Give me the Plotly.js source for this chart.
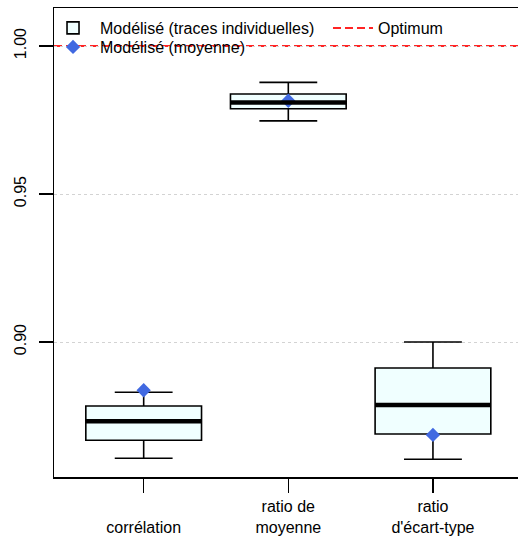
<!DOCTYPE html>
<html>
<head>
<meta charset="utf-8">
<script src="https://cdn.plot.ly/plotly-3.0.1.min.js"></script>
<style>html,body{margin:0;padding:0;background:#fff;overflow:hidden}</style>
</head>
<body>
<div id="chart" style="width:518px;height:537px"></div>
<script>
// ---- data ----
var categories = ["corrélation", "ratio de moyenne", "ratio d'écart-type"];
var tickLabels = [" <br>corrélation", "ratio de<br>moyenne", "ratio<br>d'écart-type"];
var lowerWhisker = [0.8607, 0.9747, 0.8604];
var q1Values     = [0.8668, 0.9788, 0.8689];
var medianValues = [0.8732, 0.9809, 0.8787];
var q3Values     = [0.8784, 0.9838, 0.8912];
var upperWhisker = [0.8830, 0.9877, 0.9000];
var meanValues   = [0.8837, 0.9815, 0.8686];
var optimumValue = 1.0;
var yTickVals = [0.90, 0.95, 1.00];
var yTickText = ["0.90", "0.95", "1.00"];

var FONT = "Liberation Sans, Arial, Helvetica, sans-serif";
var BOXW = 0.8;

var boxTrace = {
  type: "box",
  name: "Modélisé (traces individuelles)",
  x: categories,
  q1: q1Values,
  median: medianValues,
  q3: q3Values,
  lowerfence: lowerWhisker,
  upperfence: upperWhisker,
  width: BOXW,
  whiskerwidth: 0.5,
  fillcolor: "#F0FFFF",
  line: {color: "#000000", width: 1.6},
  boxpoints: false,
  legend: "legend",
  hoverinfo: "skip"
};

var meanTrace = {
  type: "scatter",
  mode: "markers",
  name: "Modélisé (moyenne)",
  x: categories,
  y: meanValues,
  marker: {symbol: "diamond", size: 11, color: "#4169E1", line: {width: 0}},
  legend: "legend3",
  hoverinfo: "skip"
};

var shapes = [];
// thick median bars (R medlwd)
medianValues.forEach(function (m, i) {
  shapes.push({
    type: "line", xref: "x", yref: "y",
    x0: i - BOXW / 2, x1: i + BOXW / 2, y0: m, y1: m,
    line: {color: "#000000", width: 4.5}, layer: "above"
  });
});
// optimum reference line (in legend)
shapes.push({
  type: "line", xref: "paper", yref: "y",
  x0: 0, x1: 1, y0: optimumValue, y1: optimumValue,
  line: {color: "#FF2424", width: 2, dash: "8px,4px"},
  layer: "below",
  showlegend: true, name: "Optimum", legend: "legend2"
});

function legendBox(x, y, iw) {
  return {
    orientation: "v",
    x: x, xanchor: "left", y: y, yanchor: "top",
    bgcolor: "rgba(0,0,0,0)", borderwidth: 0,
    itemwidth: iw,
    font: {family: FONT, size: 16, color: "#000000"}
  };
}

var layout = {
  width: 518, height: 537,
  margin: {l: 54, r: 0, t: 8, b: 60, pad: 0},
  paper_bgcolor: "#ffffff", plot_bgcolor: "#ffffff",
  font: {family: FONT, size: 16, color: "#000000"},
  showlegend: true,
  legend: legendBox(-0.0172, 0.9936, 44),
  legend2: legendBox(0.5905, 0.9936, 40),
  legend3: legendBox(-0.0172, 0.9531, 44),
  xaxis: {
    type: "category",
    categoryarray: categories, categoryorder: "array",
    tickvals: categories, ticktext: tickLabels,
    range: [-0.62, 2.588],
    showgrid: false, zeroline: false,
    showline: true, linecolor: "#000000", linewidth: 1.5, mirror: true,
    ticks: "outside", ticklen: 14, tickwidth: 1.5, tickcolor: "#000000",
    tickfont: {family: FONT, size: 16, color: "#000000"}
  },
  yaxis: {
    range: [0.85439, 1.01284],
    tickvals: yTickVals, ticktext: yTickText,
    tickangle: -90, ticklabelstandoff: 6,
    showgrid: true, gridcolor: "#D3D3D3", griddash: "dot", gridwidth: 1,
    zeroline: false,
    showline: true, linecolor: "#000000", linewidth: 1.5, mirror: false,
    ticks: "outside", ticklen: 14, tickwidth: 1.5, tickcolor: "#000000",
    tickfont: {family: FONT, size: 16, color: "#000000"}
  },
  shapes: shapes
};

Plotly.newPlot("chart", [boxTrace, meanTrace], layout, {staticPlot: true, displayModeBar: false});
</script>
</body>
</html>
